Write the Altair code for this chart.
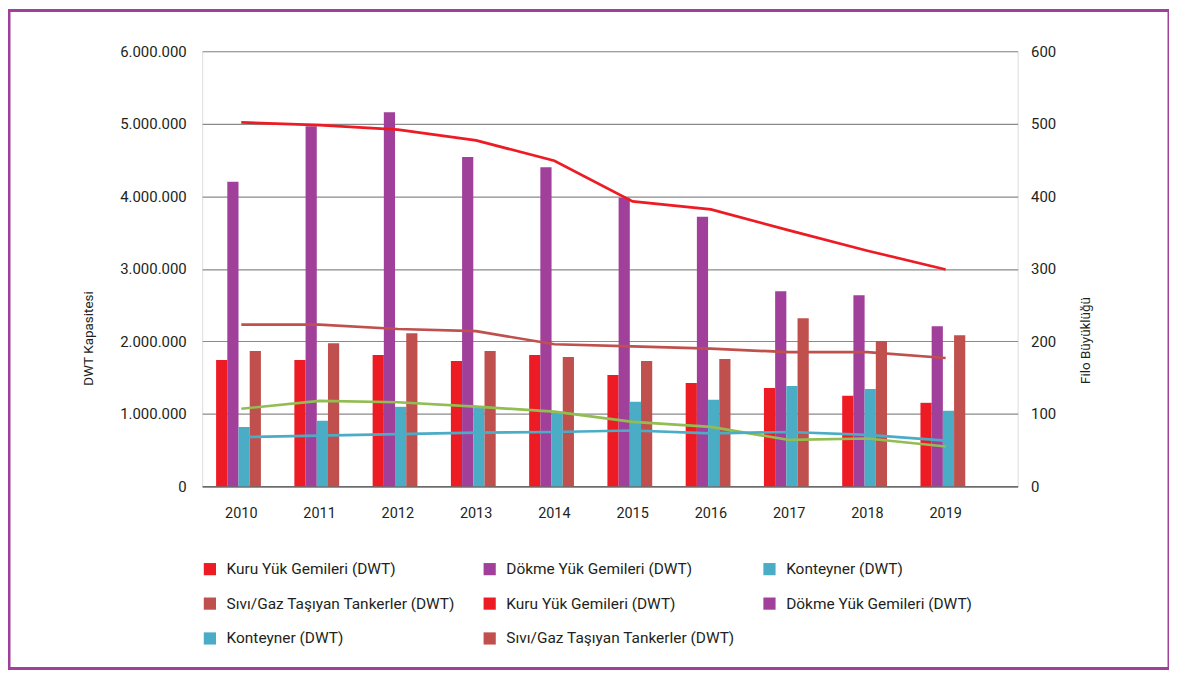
import json
import altair as alt
import pandas as pd

# ---------------- data ----------------
years = ["2010", "2011", "2012", "2013", "2014", "2015", "2016", "2017", "2018", "2019"]

kuru_dwt = [1742000, 1742000, 1811000, 1728000, 1811000, 1536000, 1427000, 1358000, 1248000, 1152000]
dokme_dwt = [4200000, 4966000, 5158000, 4540000, 4400000, 3980000, 3717000, 2689000, 2634000, 2209000]
konteyner_dwt = [819000, 905000, 1097000, 1080000, 1015000, 1166000, 1193000, 1385000, 1344000, 1043000]
sivi_dwt = [1866000, 1975000, 2112000, 1866000, 1783000, 1728000, 1756000, 2318000, 2003000, 2085000]

kuru_filo = [502, 498, 492, 477, 449, 393, 382, 353, 325, 299]
sivi_filo = [223, 223, 217, 214, 196, 193, 190, 185, 185, 177]
dokme_filo = [107, 118, 116, 110, 103, 89, 82, 64, 66, 55]
konteyner_filo = [68, 70, 72, 74, 75, 77, 73, 75, 71, 63]

bar_keys = ["b1", "b2", "b3", "b4"]
line_keys = ["l1", "l2", "l3", "l4"]
legend_keys = bar_keys + line_keys
legend_labels = [
    "Kuru Yük Gemileri (DWT)", "Dökme Yük Gemileri (DWT)", "Konteyner (DWT)",
    "Sıvı/Gaz Taşıyan Tankerler (DWT)", "Kuru Yük Gemileri (DWT)",
    "Dökme Yük Gemileri (DWT)", "Konteyner (DWT)", "Sıvı/Gaz Taşıyan Tankerler (DWT)",
]
legend_colors = ["#ED1C24", "#A0409A", "#4BACC6", "#C0504D",
                 "#ED1C24", "#A0409A", "#4BACC6", "#C0504D"]
line_draw_colors = ["#ED1C24", "#92BD52", "#4BACC6", "#C0504D"]

left_ticks = [0, 1000000, 2000000, 3000000, 4000000, 5000000, 6000000]
right_ticks = [0, 100, 200, 300, 400, 500, 600]

# ---------------- tables ----------------
bar_series = [kuru_dwt, dokme_dwt, konteyner_dwt, sivi_dwt]
bars_df = pd.DataFrame([
    {"year": y, "key": k, "value": v}
    for k, s in zip(bar_keys, bar_series)
    for y, v in zip(years, s)
])
line_series = [kuru_filo, dokme_filo, konteyner_filo, sivi_filo]
lines_df = pd.DataFrame([
    {"year": y, "key": k, "value": v}
    for k, s in zip(line_keys, line_series)
    for y, v in zip(years, s)
])

FONT = "Roboto"
TXT = "#231F20"

label_expr = "{}[indexof({}, datum.value)]".format(
    json.dumps(legend_labels, ensure_ascii=False), json.dumps(legend_keys))

x_enc = alt.X(
    "year:N",
    sort=years,
    scale=alt.Scale(paddingInner=0, paddingOuter=0.21, align=0),
    axis=alt.Axis(title=None, labelAngle=0, labelPadding=20, ticks=False,
                  domainColor="#6b6b6b", domainWidth=1.5, labelFontSize=14.5,
                  labelColor=TXT, labelFont=FONT, grid=False),
)

bars = alt.Chart(bars_df).mark_bar().encode(
    x=x_enc,
    xOffset=alt.XOffset("key:N", sort=bar_keys,
                        scale=alt.Scale(domain=bar_keys, paddingInner=0, range=[14, 59])),
    y=alt.Y(
        "value:Q",
        scale=alt.Scale(domain=[0, 6000000]),
        axis=alt.Axis(
            values=left_ticks,
            labelExpr="replace(format(datum.value, ','), regexp(',', 'g'), '.')",
            grid=True, gridColor="#8a8a8a", gridWidth=1.2, domain=False, ticks=False,
            labelPadding=16, labelFontSize=15, labelColor=TXT, labelFont=FONT,
            title="DWT Kapasitesi", titleFont=FONT, titleFontSize=13.5,
            titleFontWeight="normal", titleColor=TXT, titleAngle=270,
            titleX=-114, titleY=288, titleBaseline="middle", titleAlign="center",
        ),
    ),
    color=alt.Color(
        "key:N",
        scale=alt.Scale(domain=legend_keys, range=legend_colors),
        legend=alt.Legend(
            title=None, orient="none", legendX=0, legendY=512, columns=3,
            direction="horizontal",
            columnPadding=26, rowPadding=18, symbolType="square", symbolSize=150,
            symbolStrokeWidth=0, labelFont=FONT, labelFontSize=15.5, labelColor=TXT,
            labelOffset=9, labelLimit=400, gridAlign="all", labelExpr=label_expr,
        ),
    ),
)

lines = alt.Chart(lines_df).mark_line(strokeWidth=2.7).encode(
    x=x_enc,
    y=alt.Y(
        "value:Q",
        scale=alt.Scale(domain=[0, 600]),
        axis=alt.Axis(
            orient="right", values=right_ticks, grid=False, domain=False, ticks=False,
            labelPadding=13, labelFontSize=15, labelColor=TXT, labelFont=FONT,
            title="Filo Büyüklüğü", titleFont=FONT, titleFontSize=13.5,
            titleFontWeight="normal", titleColor=TXT, titleAngle=270,
            titleX=68, titleY=290, titleBaseline="middle", titleAlign="center",
        ),
    ),
    stroke=alt.Stroke("key:N", scale=alt.Scale(domain=line_keys, range=line_draw_colors),
                      legend=None),
    detail="key:N",
)

frame = alt.Chart(pd.DataFrame({"f": [0]})).mark_rect(
    filled=False, stroke="#A0409A", strokeWidth=3
).encode(
    x=alt.value(-194), x2=alt.value(971), y=alt.value(-41), y2=alt.value(620)
)

chart = alt.layer(bars, lines, frame).resolve_scale(
    y="independent", color="independent"
).properties(
    width=819, height=437,
    autosize=alt.AutoSizeParams(type="none"),
    padding={"left": 195, "top": 42, "right": 152, "bottom": 185},
).configure_view(stroke=None).configure(font=FONT)

chart.save("out.html", embed_options={"renderer": "svg", "actions": False})
